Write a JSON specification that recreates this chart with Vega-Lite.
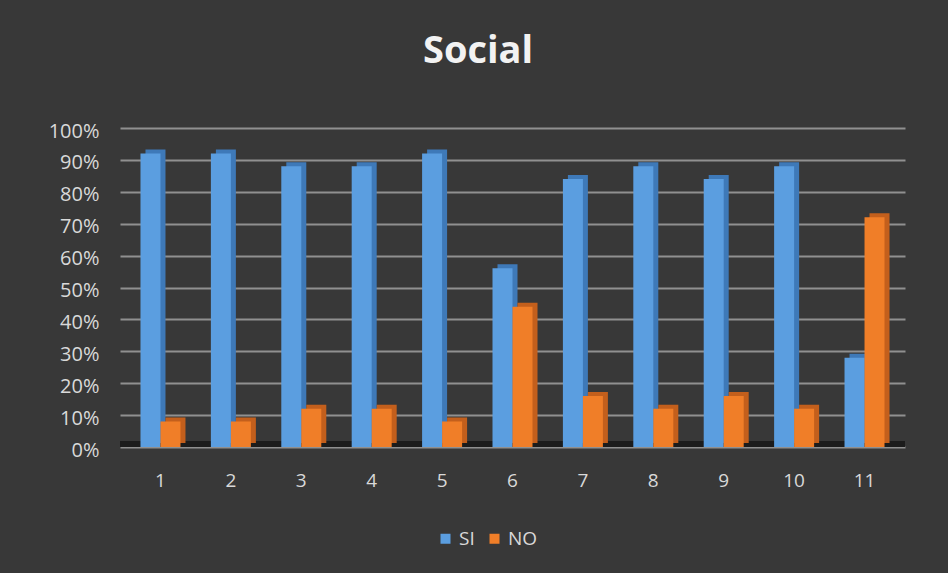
{
  "$schema": "https://vega.github.io/schema/vega-lite/v6.json",
  "width": 785,
  "height": 319,
  "autosize": "none",
  "padding": {"left": 120, "top": 128, "right": 43, "bottom": 126},
  "background": "#383838",
  "title": {
    "text": "Social",
    "color": "#f2f2f2",
    "fontSize": 38,
    "fontWeight": "bold",
    "font": "Open Sans",
    "anchor": "middle",
    "offset": 50,
    "frame": "bounds",
    "limit": 0
  },
  "config": {
    "view": {"stroke": null},
    "font": "Open Sans"
  },
  "data": {
    "values": [
      {"cat": "1", "serie": "SI", "value": 0.92}, {"cat": "1", "serie": "NO", "value": 0.08},
      {"cat": "2", "serie": "SI", "value": 0.92}, {"cat": "2", "serie": "NO", "value": 0.08},
      {"cat": "3", "serie": "SI", "value": 0.88}, {"cat": "3", "serie": "NO", "value": 0.12},
      {"cat": "4", "serie": "SI", "value": 0.88}, {"cat": "4", "serie": "NO", "value": 0.12},
      {"cat": "5", "serie": "SI", "value": 0.92}, {"cat": "5", "serie": "NO", "value": 0.08},
      {"cat": "6", "serie": "SI", "value": 0.56}, {"cat": "6", "serie": "NO", "value": 0.44},
      {"cat": "7", "serie": "SI", "value": 0.84}, {"cat": "7", "serie": "NO", "value": 0.16},
      {"cat": "8", "serie": "SI", "value": 0.88}, {"cat": "8", "serie": "NO", "value": 0.12},
      {"cat": "9", "serie": "SI", "value": 0.84}, {"cat": "9", "serie": "NO", "value": 0.16},
      {"cat": "10", "serie": "SI", "value": 0.88}, {"cat": "10", "serie": "NO", "value": 0.12},
      {"cat": "11", "serie": "SI", "value": 0.28}, {"cat": "11", "serie": "NO", "value": 0.72}
    ]
  },
  "encoding": {
    "x": {
      "field": "cat", "type": "nominal", "sort": null,
      "scale": {"paddingInner": 0.43, "paddingOuter": 0.29},
      "axis": {
        "title": null, "labelAngle": 0, "labelColor": "#d9d9d9", "labelFontSize": 19,
        "labelPadding": 24, "ticks": false, "domain": false, "labelFont": "Open Sans"
      }
    },
    "y": {
      "field": "value", "type": "quantitative",
      "scale": {"domain": [0, 1], "nice": false},
      "axis": {
        "title": null, "format": ".0%", "values": [0, 0.1, 0.2, 0.3, 0.4, 0.5, 0.6, 0.7, 0.8, 0.9, 1],
        "labelColor": "#d9d9d9", "labelFontSize": 20, "labelPadding": 21, "ticks": false,
        "labelOffset": 3,
        "domain": false, "gridColor": "#9a9a9a", "gridWidth": 2, "gridOpacity": 0.9,
        "labelFont": "Open Sans"
      }
    }
  },
  "layer": [
    {
      "mark": {"type": "rule", "color": "#1c1c1c", "strokeWidth": 6, "yOffset": -3},
      "encoding": {"y": {"datum": 0}, "x": null}
    },
    {
      "transform": [{"filter": "datum.serie === 'SI'"}],
      "mark": {"type": "bar", "width": 20, "xOffset": -5, "yOffset": -4, "color": "#3e79b8"}
    },
    {
      "transform": [{"filter": "datum.serie === 'SI'"}],
      "mark": {"type": "bar", "width": 20, "xOffset": -10},
      "encoding": {
        "color": {
          "field": "serie", "type": "nominal",
          "scale": {"domain": ["SI", "NO"], "range": ["#5b9ee0", "#f07e28"]},
          "legend": {
            "title": null, "orient": "none", "direction": "horizontal",
            "legendX": 316, "legendY": 401,
            "symbolType": "square", "symbolSize": 100, "labelColor": "#d9d9d9",
            "labelFontSize": 19, "columnPadding": 10, "labelFont": "Open Sans"
          }
        }
      }
    },
    {
      "transform": [{"filter": "datum.serie === 'NO'"}],
      "mark": {"type": "bar", "width": 20, "xOffset": 15, "yOffset": -4, "color": "#c35f1c"}
    },
    {
      "transform": [{"filter": "datum.serie === 'NO'"}],
      "mark": {"type": "bar", "width": 20, "xOffset": 10},
      "encoding": {
        "color": {
          "field": "serie", "type": "nominal",
          "scale": {"domain": ["SI", "NO"], "range": ["#5b9ee0", "#f07e28"]}
        }
      }
    }
  ]
}
